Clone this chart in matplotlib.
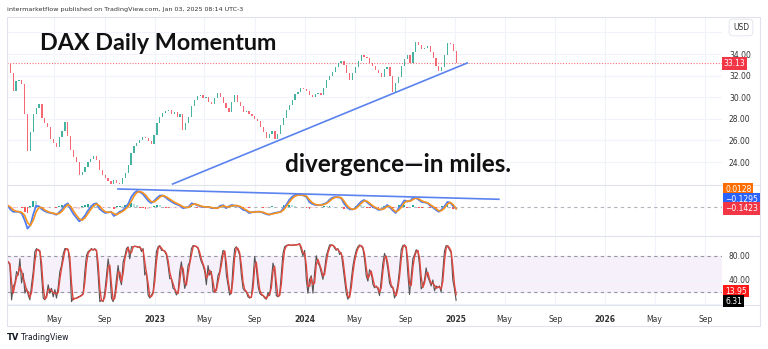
import numpy as np
import pandas as pd
import matplotlib
matplotlib.use('Agg')
import matplotlib.pyplot as plt
from matplotlib.patches import Rectangle
from matplotlib.lines import Line2D

# weekly closes (Fridays) Jan 2022 -> Jan 03 2025
week_close = [33.1, 32.2, 30.6, 31.5, 31.6, 31.2, 28.4, 25.0, 26.8, 28.4,
              29.0, 29.4, 28.1, 27.6, 27.2, 26.1, 25.8, 25.4, 26.3, 26.9,
              27.7, 26.4, 25.1, 24.5, 24.0, 22.8, 23.1, 23.5, 24.0, 24.3,
              24.6, 24.2, 23.3, 22.8, 22.5, 22.2, 22.0, 22.3, 22.1, 22.0,
              22.5, 23.0, 23.7, 24.8, 25.5, 25.8, 26.0, 26.3, 26.2, 25.9,
              25.7, 26.5, 27.6, 28.2, 28.5, 28.7, 28.8, 28.4, 28.6, 28.2,
              28.4, 27.0, 27.6, 28.2, 29.2, 29.7, 30.1, 30.2, 29.9, 30.0,
              29.6, 29.4, 29.9, 30.4, 30.0, 29.5, 29.0, 28.6, 29.6, 30.2,
              29.6, 29.2, 28.6, 28.7, 28.4, 28.3, 28.0, 27.8, 27.2, 26.8,
              26.2, 26.6, 26.9, 26.1, 26.6, 27.4, 28.1, 28.8, 29.3, 29.7,
              30.3, 30.5, 30.9, 30.8, 30.6, 30.2, 30.0, 30.3, 30.4, 30.2,
              30.9, 31.6, 32.0, 32.3, 32.8, 33.2, 33.4, 33.0, 32.2, 31.6,
              32.2, 32.8, 33.4, 33.9, 33.7, 33.6, 33.2, 32.9, 32.5, 32.2,
              31.9, 32.6, 32.8, 32.0, 30.5, 31.3, 31.9, 32.9, 33.5, 33.9,
              33.2, 34.2, 35.1, 34.8, 34.5, 34.6, 34.7, 34.2, 33.6, 32.9,
              32.4, 32.8, 33.9, 35.0, 34.9, 34.3, 33.13]
first_open = 33.5

macd_line = [0.15, -0.2, -0.4, -0.4, -0.4, -0.55, -1.1, -1.8, -1.5, -0.6,
             0.1, 0.05, -0.2, -0.35, -0.45, -0.5, -0.55, -0.65, -0.45, -0.2,
             0.15, 0.3, -0.2, -0.6, -0.9, -1.2, -1.0, -0.7, -0.3, 0.0,
             0.25, 0.3, -0.15, -0.35, -0.5, -0.45, -0.4, -0.75, -0.6, -0.4,
             -0.3, -0.05, 0.25, 0.8, 1.15, 1.33, 1.25, 1.1, 0.8, 0.5,
             0.33, 0.5, 0.75, 0.95, 0.95, 0.8, 0.6, 0.45, 0.3, 0.2,
             0.1, -0.1, -0.05, 0.0, 0.3, 0.25, 0.15, 0.05, 0.0, 0.0,
             0.0, -0.1, -0.1, -0.1, 0.1, 0.15, -0.1, 0.05, 0.17, 0.1,
             0.1, -0.05, -0.25, -0.3, -0.5, -0.45, -0.4, -0.4, -0.4, -0.5,
             -0.6, -0.65, -0.55, -0.5, -0.45, -0.4, -0.1, 0.2, 0.6, 0.85,
             1.0, 1.0, 1.0, 0.95, 0.83, 0.4, 0.25, 0.17, 0.15, 0.17,
             0.25, 0.35, 0.6, 0.78, 0.83, 0.8, 0.75, 0.3, 0.0, -0.2,
             -0.2, -0.1, 0.2, 0.45, 0.58, 0.4, 0.2, 0.0, -0.1, -0.25,
             -0.2, -0.1, 0.17, -0.05, -0.3, -0.5, -0.1, 0.17, 0.55, 0.45,
             0.5, 0.75, 0.75, 0.6, 0.42, 0.38, 0.33, 0.1, -0.05, -0.25,
             -0.4, -0.2, 0.05, 0.42, 0.35, 0.05, -0.1295]

macd_signal = [0.15, 0.0, -0.25, -0.35, -0.4, -0.45, -0.7, -1.3, -1.55, -1.1,
               -0.4, -0.05, -0.05, -0.25, -0.38, -0.47, -0.52, -0.6, -0.55, -0.35,
               -0.05, 0.2, 0.05, -0.35, -0.7, -1.0, -1.1, -0.9, -0.55, -0.2,
               0.1, 0.25, 0.1, -0.2, -0.4, -0.45, -0.42, -0.55, -0.65, -0.5,
               -0.38, -0.2, 0.05, 0.45, 0.9, 1.2, 1.3, 1.2, 1.0, 0.7,
               0.45, 0.42, 0.6, 0.82, 0.95, 0.88, 0.72, 0.55, 0.4, 0.28,
               0.17, 0.02, -0.05, -0.03, 0.15, 0.25, 0.2, 0.1, 0.03, 0.0,
               0.0, -0.05, -0.1, -0.1, 0.0, 0.1, 0.02, 0.0, 0.1, 0.12,
               0.1, 0.03, -0.12, -0.25, -0.4, -0.45, -0.42, -0.4, -0.4, -0.45,
               -0.55, -0.62, -0.6, -0.53, -0.48, -0.42, -0.25, 0.05, 0.4, 0.7,
               0.9, 0.98, 1.0, 0.97, 0.9, 0.6, 0.35, 0.22, 0.17, 0.16,
               0.2, 0.3, 0.48, 0.68, 0.8, 0.82, 0.78, 0.5, 0.15, -0.1,
               -0.2, -0.15, 0.05, 0.3, 0.5, 0.48, 0.3, 0.1, -0.05, -0.18,
               -0.22, -0.15, 0.05, 0.05, -0.18, -0.4, -0.28, 0.0, 0.35, 0.5,
               0.48, 0.62, 0.75, 0.68, 0.52, 0.42, 0.36, 0.2, 0.03, -0.15,
               -0.32, -0.3, -0.08, 0.25, 0.38, 0.18, -0.1423]

# stochastic %K, sampled every ~4 days
stoch_k = [70, 64, 7, 29, 35, 54, 48, 75, 35, 51,
           18, 26, 15, 7, 32, 54, 87, 92, 89, 87,
           48, 10, 7, 15, 32, 18, 26, 12, 24, 10,
           28, 54, 64, 83, 92, 92, 89, 64, 4, 10,
           9, 10, 12, 13, 15, 18, 54, 81, 87, 89,
           92, 89, 92, 87, 48, 4, 7, 4, 20, 48,
           75, 54, 10, 4, 15, 42, 64, 42, 32, 70,
           79, 92, 95, 75, 95, 95, 96, 95, 94, 95,
           87, 92, 48, 54, 15, 10, 15, 20, 54, 87,
           95, 97, 89, 89, 87, 81, 64, 42, 42, 26,
           24, 15, 20, 54, 70, 48, 26, 37, 64, 70,
           92, 97, 96, 95, 92, 79, 70, 64, 54, 32,
           64, 48, 54, 20, 20, 26, 48, 54, 75, 89,
           87, 48, 32, 15, 20, 64, 92, 95, 89, 81,
           48, 26, 22, 20, 12, 10, 12, 40, 79, 60,
           30, 18, 15, 14, 10, 8, 19, 14, 40, 68,
           57, 14, 12, 16, 50, 84, 95, 97, 98, 98,
           97, 98, 98, 98, 99, 100, 89, 80, 89, 41,
           18, 41, 47, 18, 52, 80, 68, 63, 52, 41,
           57, 80, 89, 98, 98, 97, 93, 89, 92, 82,
           85, 63, 40, 18, 8, 14, 40, 63, 78, 89,
           95, 98, 96, 92, 74, 47, 38, 57, 52, 33,
           27, 30, 25, 14, 40, 68, 84, 75, 58, 35,
           28, 27, 10, 18, 33, 58, 90, 97, 98, 92,
           50, 16, 45, 75, 82, 90, 88, 65, 25, 30,
           40, 60, 45, 38, 30, 40, 22, 30, 27, 30,
           20, 55, 88, 97, 96, 90, 85, 40, 25, 6.31]

last_price = 33.13

# hand drawn trendlines (date, value)
price_trend_dates = ['2023-02-13', '2025-01-30']
price_trend_vals = [21.96, 33.17]
macd_trend_dates = ['2022-10-03', '2025-04-17']
macd_trend_vals = [1.5, 0.64]

tick_dates = ['2022-05-01', '2022-09-01', '2023-01-01', '2023-05-01', '2023-09-01',
              '2024-01-01', '2024-05-01', '2024-09-01', '2025-01-01', '2025-05-01',
              '2025-09-01', '2026-01-01', '2026-05-01', '2026-09-01']
tick_labels = ['May', 'Sep', '2023', 'May', 'Sep', '2024', 'May', 'Sep', '2025',
               'May', 'Sep', '2026', 'May', 'Sep']

week_dates = pd.date_range('2022-01-07', periods=len(week_close), freq='W-FRI')
stoch_dates = pd.date_range('2022-01-09', '2025-01-03', periods=len(stoch_k))
tick_dates = pd.to_datetime(tick_dates)

GREEN, RED = '#089981', '#f23645'
GRID = '#f0f3fa'
W, H = 768, 349


def rect(x0, y0, x1, y1):
    return [x0 / W, 1 - y1 / H, (x1 - x0) / W, (y1 - y0) / H]


fig = plt.figure(figsize=(W / 100, H / 100), dpi=100)
L, R = 7, 722
ax_p = fig.add_axes(rect(L, 17, R, 185))
ax_m = fig.add_axes(rect(L, 185, R, 236), sharex=ax_p)
ax_s = fig.add_axes(rect(L, 236, R, 305), sharex=ax_p)

for ax in (ax_p, ax_m, ax_s):
    for sp in ax.spines.values():
        sp.set_visible(False)
    ax.set_facecolor('none')
    for d in tick_dates:
        ax.axvline(d, color=GRID, lw=0.8, zorder=0)
    ax.tick_params(axis='both', length=0)

# ---- price panel ----
closes = np.array(week_close)
opens = np.concatenate([[first_open], closes[:-1]])
cols = [GREEN if c >= o else RED for o, c in zip(opens, closes)]
body = np.where(np.abs(closes - opens) < 0.08, 0.08, closes - opens)
ax_p.bar(week_dates, body, bottom=opens, width=3.0, color=cols, alpha=0.75, zorder=3)
for lvl in range(24, 38, 2):
    ax_p.axhline(lvl, color=GRID, lw=0.8, zorder=0)
ax_p.axhline(last_price, color=RED, lw=0.8, ls=(0, (1, 1.5)), alpha=0.7, zorder=2)
ax_p.plot(pd.to_datetime(price_trend_dates), price_trend_vals, color='#5b83f0', lw=1.2, zorder=4)
ax_p.set_ylim(21.87, 37.43)
ax_p.yaxis.tick_right()
ax_p.set_yticks(range(24, 36, 2))
ax_p.set_yticklabels([f'{v:.2f}' for v in range(24, 36, 2)], fontsize=5.5, color='#333333')
ax_p.tick_params(axis='y', pad=5)
ax_p.tick_params(axis='x', labelbottom=False)
ax_p.text(1.0025, last_price, f'{last_price:.2f}', transform=ax_p.get_yaxis_transform(),
          fontsize=5.5, color='white', va='center', ha='left', clip_on=False,
          bbox=dict(boxstyle='square,pad=0.25', fc=RED, ec='none'))

# ---- MACD panel ----
ml = np.array(macd_line)
sg = np.array(macd_signal)
hist = ml - sg
prev = np.concatenate([[0], hist[:-1]])
hcols = []
for h, p in zip(hist, prev):
    if h >= 0:
        hcols.append('#26a69a' if h > p else '#b2dfdb')
    else:
        hcols.append('#ff5252' if h < p else '#ffcdd2')
ax_m.bar(week_dates, hist, width=4.5, color=hcols, zorder=2)
ax_m.axhline(0, color='#b2b5be', lw=0.8, ls=(0, (3, 3)), zorder=1)
ax_m.plot(week_dates, ml, color='#4f7df3', lw=1.3, zorder=3)
ax_m.plot(week_dates, sg, color='#f7931e', lw=1.2, zorder=4)
ax_m.plot(pd.to_datetime(macd_trend_dates), macd_trend_vals, color='#5b83f0', lw=1.2, zorder=5)
ax_m.set_ylim(-2.42, 1.83)
ax_m.set_yticks([])
ax_m.tick_params(axis='x', labelbottom=False)

# ---- stochastic panel ----
k = pd.Series(stoch_k, dtype=float)
d = k.rolling(2, min_periods=1).mean()
ax_s.axhspan(20, 80, color='#f5f0fa', zorder=0)
for lvl in (80, 20):
    ax_s.axhline(lvl, color='#9598a1', lw=0.8, ls=(0, (3, 3)), zorder=1)
for lvl in (0, 40):
    ax_s.axhline(lvl, color=GRID, lw=0.8, zorder=0)
ax_s.plot(stoch_dates, k, color='#555555', lw=0.8, zorder=2)
ax_s.plot(stoch_dates, d, color='#e0453e', lw=1.0, zorder=3)
ax_s.set_ylim(-1.5, 112.8)
ax_s.yaxis.tick_right()
ax_s.set_yticks([40, 80])
ax_s.set_yticklabels(['40.00', '80.00'], fontsize=5.5, color='#333333')
ax_s.tick_params(axis='y', pad=5)
ax_s.set_xticks(tick_dates)
ax_s.set_xticklabels(tick_labels, fontsize=5.5, color='#333333')
ax_s.tick_params(axis='x', pad=7)
for lab in ax_s.get_xticklabels():
    if lab.get_text().isdigit():
        lab.set_fontweight('bold')
ax_s.set_xlim(pd.Timestamp('2022-01-06'), pd.Timestamp('2026-10-12'))

# right side value tags
def tag(x, y, s, fc, fg='white'):
    fig.text(x / W, 1 - y / H, s, fontsize=5.5, color=fg, va='center', ha='left',
             bbox=dict(boxstyle='square,pad=0.25', fc=fc, ec='none'))

tag(725, 189.5, '0.0128', '#ff6d00')
tag(725, 199.5, '\u22120.1295', '#2962ff')
tag(725, 208.5, '\u22120.1423', RED)
tag(725, 291, '13.95', '#ff1a1a')
tag(725, 301, '6.31', '#000000')

# frame and panel separators
fig.add_artist(Rectangle((7 / W, 1 - 326 / H), 753 / W, 309 / H, transform=fig.transFigure,
                         fill=False, edgecolor='#e0e3eb', lw=0.8))
for yy in (185, 236, 305):
    fig.add_artist(Line2D([7 / W, 760 / W], [1 - yy / H, 1 - yy / H], transform=fig.transFigure,
                          color='#e0e3eb', lw=0.8))

fig.text(741 / W, 1 - 27.5 / H, 'USD', fontsize=5.5, color='#333333', ha='center', va='center',
         bbox=dict(boxstyle='round,pad=0.5', fc='white', ec='#e0e3eb', lw=0.6))

# texts
fig.text(7 / W, 1 - 10 / H, 'intermarketflow published on TradingView.com, Jan 03, 2025 08:14 UTC-3',
         fontsize=4.6, color='#333333', va='center')
fig.text(40 / W, 1 - 50 / H, 'DAX Daily Momentum', fontsize=16.8, family='Lato',
         weight='bold', color='#111111', va='baseline')
fig.text(285 / W, 1 - 172 / H, 'divergence\u2014in miles.', fontsize=17.5, family='Lato',
         weight='bold', color='#111111', va='baseline')
fig.text(7 / W, 1 - 337 / H, 'TV', fontsize=6, weight='bold', color='#131722', va='center')
fig.text(21 / W, 1 - 337 / H, 'TradingView', fontsize=5.6, color='#131722', va='center')

fig.savefig('out.png', dpi=100, facecolor='white')
